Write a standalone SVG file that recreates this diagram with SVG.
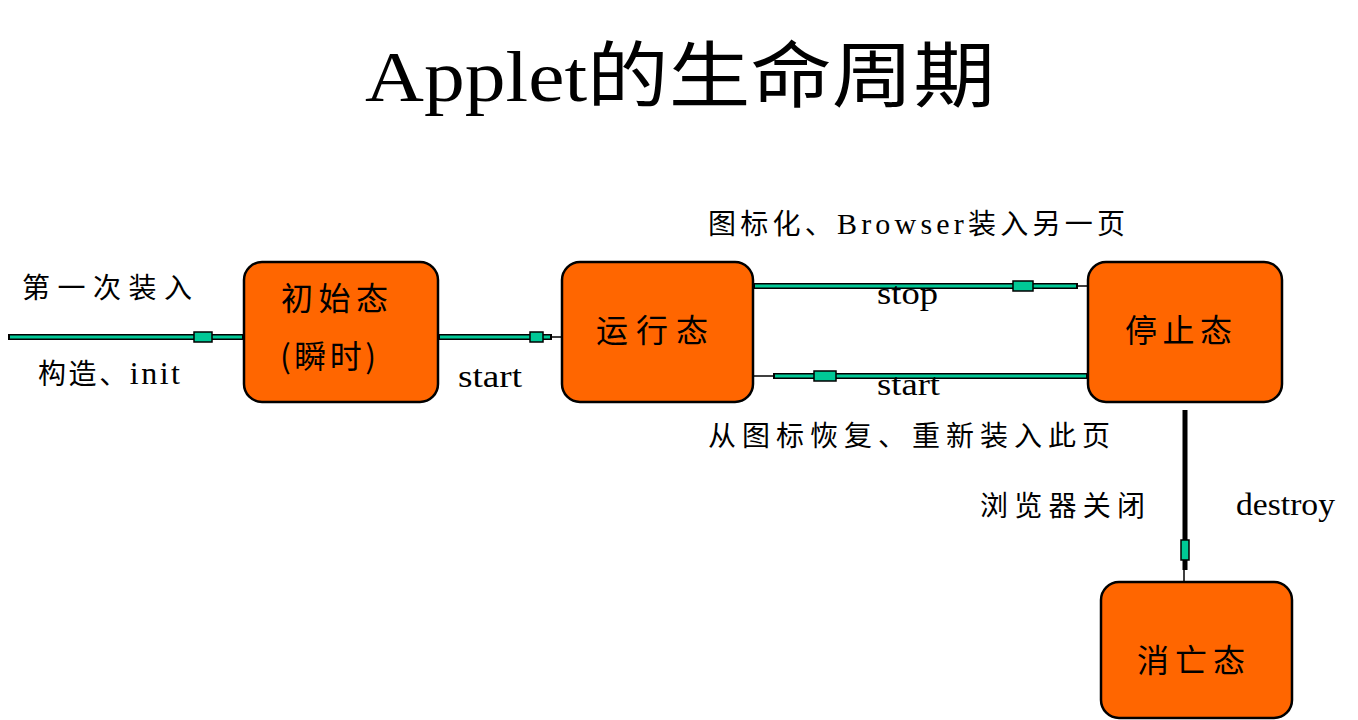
<svg xmlns="http://www.w3.org/2000/svg" width="1358" height="720" viewBox="0 0 1358 720">
<style>
.node{fill:#ff6600;stroke:#000;stroke-width:2.5}
.nt{font-family:"Noto Sans CJK SC","Noto Sans",sans-serif;font-size:32px;fill:#000}
.lb{font-family:"Liberation Serif","Noto Sans CJK SC",serif;font-size:28px;fill:#000}
.lt{font-family:"Liberation Serif",serif;font-size:32px;fill:#000}
.out{stroke:#000;stroke-width:6;fill:none}
.in{stroke:#00c896;stroke-width:3;fill:none}
.thin{stroke:#000;stroke-width:1.5;fill:none}
.mk{fill:#00c896;stroke:#000;stroke-width:1.5}
</style>
<rect width="1358" height="720" fill="#fff"/>
<text x="680" y="101" text-anchor="middle" font-family="Liberation Serif,'Noto Sans CJK SC',serif" font-size="72" textLength="630" lengthAdjust="spacingAndGlyphs">Applet的生命周期</text>
<g id="connectors">
<g id="c-init">
<line class="out" x1="8" y1="337" x2="244" y2="337"/>
<line class="in" x1="10" y1="337" x2="242" y2="337"/>
<rect class="mk" x="194" y="332" width="18" height="10"/>
</g>
<g id="c-start1">
<line class="out" x1="438" y1="337" x2="552" y2="337"/>
<line class="in" x1="440" y1="337" x2="550" y2="337"/>
<line class="thin" x1="552" y1="337" x2="562" y2="337"/>
<rect class="mk" x="530" y="332" width="13" height="10"/>
</g>
<g id="c-stop">
<line class="out" x1="753" y1="286" x2="1078" y2="286"/>
<line class="in" x1="755" y1="286" x2="1076" y2="286"/>
<line class="thin" x1="1078" y1="286" x2="1100" y2="286"/>
<rect class="mk" x="1013" y="281" width="20" height="10"/>
</g>
<g id="c-start2">
<line class="thin" x1="753" y1="376" x2="773" y2="376"/>
<line class="out" x1="773" y1="376" x2="1088" y2="376"/>
<line class="in" x1="775" y1="376" x2="1086" y2="376"/>
<rect class="mk" x="814" y="371" width="22" height="10"/>
</g>
<g id="c-destroy">
<line stroke="#000" stroke-width="5" x1="1185" y1="410" x2="1185" y2="570"/>
<line class="thin" x1="1184" y1="570" x2="1184" y2="582"/>
<rect class="mk" x="1181" y="540" width="8" height="20"/>
</g>
</g>
<g id="n-init">
<rect class="node" x="244" y="262" width="194" height="140" rx="18"/>
<text class="nt" x="281" y="310" textLength="107" lengthAdjust="spacing">初始态</text>
<text class="nt" x="280" y="368" textLength="96" lengthAdjust="spacing">(瞬时)</text>
</g>
<g id="n-run">
<rect class="node" x="562" y="262" width="191" height="140" rx="18"/>
<text class="nt" x="596" y="342" textLength="112" lengthAdjust="spacing">运行态</text>
</g>
<g id="n-stop">
<rect class="node" x="1088" y="262" width="194" height="140" rx="18"/>
<text class="nt" x="1125" y="342" textLength="107" lengthAdjust="spacing">停止态</text>
</g>
<g id="n-dead">
<rect class="node" x="1101" y="582" width="191" height="136" rx="18"/>
<text class="nt" x="1137" y="672" textLength="108" lengthAdjust="spacing">消亡态</text>
</g>
<g id="labels">
<text class="lb" x="22" y="298" textLength="170" lengthAdjust="spacing">第一次装入</text>
<text class="lb" x="38" y="384" textLength="142" lengthAdjust="spacing">构造、<tspan font-size="32">init</tspan></text>
<text class="lt" x="458" y="387" textLength="64" lengthAdjust="spacingAndGlyphs">start</text>
<text class="lb" x="708" y="234" textLength="417" lengthAdjust="spacing">图标化、<tspan font-size="30">Browser</tspan>装入另一页</text>
<text class="lt" x="877" y="304" textLength="61" lengthAdjust="spacingAndGlyphs">stop</text>
<text class="lt" x="877" y="395" textLength="63" lengthAdjust="spacingAndGlyphs">start</text>
<text class="lb" x="708" y="446" textLength="402" lengthAdjust="spacing">从图标恢复、重新装入此页</text>
<text class="lb" x="980" y="516" textLength="165" lengthAdjust="spacing">浏览器关闭</text>
<text class="lt" x="1236" y="515" textLength="99" lengthAdjust="spacingAndGlyphs">destroy</text>
</g>
</svg>
